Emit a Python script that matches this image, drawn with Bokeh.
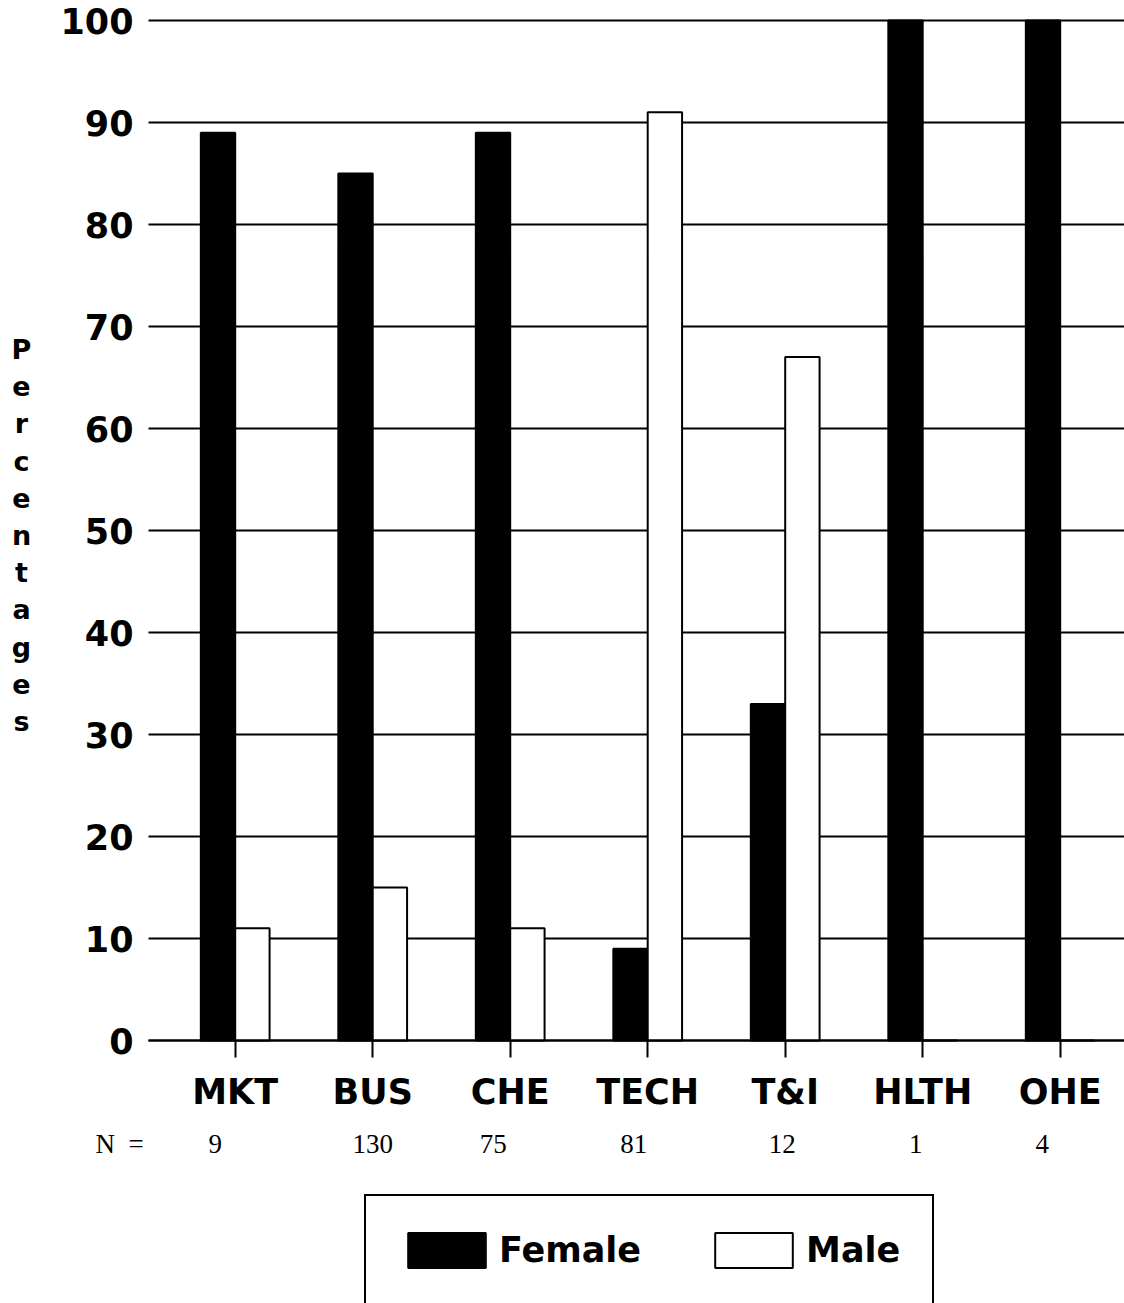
from bokeh.plotting import figure
from bokeh.models import (ColumnDataSource, FixedTicker, Label, LabelSet, Legend,
                          LegendItem, LinearAxis, Range1d)
from bokeh.transform import dodge
from bokeh.embed import file_html
from bokeh.resources import INLINE

# ---- data ----
categories = ["MKT", "BUS", "CHE", "TECH", "T&I", "HLTH", "OHE"]
female = [89, 85, 89, 9, 33, 100, 100]
male = [11, 15, 11, 91, 67, 0, 0]
n_counts = ["9", "130", "75", "81", "12", "1", "4"]
y_ticks = [0, 10, 20, 30, 40, 50, 60, 70, 80, 90, 100]

idx = list(range(len(categories)))

# ---- layout constants (pixels) ----
W, H = 1124, 1303
PLOT_LEFT_PX = 148          # where the value axis / grid starts
BASE_PX = 1040              # pixel row of value 0
PX_PER_CAT = 137.5
FIRST_CENTER_PX = 234.7
PX_PER_UNIT = 10.2
n_shift_px = [-20, 0, -17, -14, -3, -7, -18]   # horizontal nudge of N labels
N_ROW_PX = 1143
N_TITLE_PX = 119
YTITLE_X_PX, YTITLE_Y_PX = 21, 535


def px_to_x(px):
    return (px - FIRST_CENTER_PX) / PX_PER_CAT


def px_to_y(py):
    return (BASE_PX - py) / PX_PER_UNIT


x_start, x_end = px_to_x(0), px_to_x(W)
y_start, y_end = px_to_y(H), px_to_y(0)
x_axis_start = px_to_x(PLOT_LEFT_PX)

n_x = [i + s / PX_PER_CAT for i, s in zip(idx, n_shift_px)]
src = ColumnDataSource(dict(idx=idx, cat=categories, female=female, male=male,
                            n=n_counts, n_x=n_x))
grid_src = ColumnDataSource(dict(y=y_ticks))

FONT = "DejaVu Sans"

p = figure(width=W, height=H, output_backend="svg", toolbar_location=None,
           x_range=Range1d(x_start, x_end), y_range=Range1d(y_start, y_end),
           min_border=0, x_axis_location=None, y_axis_location=None)
p.outline_line_color = None
p.background_fill_color = "white"
p.border_fill_color = "white"
p.xgrid.visible = False
p.ygrid.visible = False

# horizontal gridlines (start at the value axis)
p.segment(x0=x_axis_start, x1=x_end, y0="y", y1="y", source=grid_src,
          line_color="black", line_width=1.8)

# bars
bw = 0.25
r_f = p.vbar(x=dodge("idx", -bw / 2), top="female", width=bw, source=src,
             fill_color="black", line_color="black", line_width=2)
r_m = p.vbar(x=dodge("idx", bw / 2), top="male", width=bw, source=src,
             fill_color="white", line_color="black", line_width=2)

# y axis: labels only
yax = LinearAxis(ticker=FixedTicker(ticks=y_ticks), fixed_location=x_axis_start,
                 bounds=(0, 100))
yax.axis_line_color = None
yax.major_tick_line_color = None
yax.minor_tick_line_color = None
yax.major_label_text_font = FONT
yax.major_label_text_font_style = "bold"
yax.major_label_text_font_size = "35px"
yax.major_label_text_color = "black"
yax.major_label_standoff = 9
p.add_layout(yax, "left")

# x axis with category labels
xax = LinearAxis(ticker=FixedTicker(ticks=idx), fixed_location=0,
                 bounds=(x_axis_start, x_end))
xax.major_label_overrides = {i: c for i, c in zip(idx, categories)}
xax.axis_line_color = "black"
xax.axis_line_width = 2
xax.major_tick_line_color = "black"
xax.major_tick_line_width = 2
xax.major_tick_in = 0
xax.major_tick_out = 17
xax.minor_tick_line_color = None
xax.major_label_text_font = FONT
xax.major_label_text_font_style = "bold"
xax.major_label_text_font_size = "35px"
xax.major_label_text_color = "black"
xax.major_label_standoff = 14
p.add_layout(xax, "below")

# stacked y title
p.add_layout(Label(x=px_to_x(YTITLE_X_PX), y=px_to_y(YTITLE_Y_PX),
                   text="\n".join("Percentages"),
                   text_font=FONT, text_font_style="bold", text_font_size="27px",
                   text_align="center", text_baseline="middle", text_line_height=1.2,
                   text_color="black"))

# N row
n_y = px_to_y(N_ROW_PX)
p.add_layout(Label(x=px_to_x(N_TITLE_PX), y=n_y, text="N\u00a0\u00a0=",
                   text_font="Liberation Serif", text_font_size="27px",
                   text_align="center", text_baseline="middle", text_color="black"))
p.add_layout(LabelSet(x="n_x", y=n_y, text="n", source=src,
                      text_font="Liberation Serif", text_font_size="27px",
                      text_align="center", text_baseline="middle", text_color="black"))

# legend
legend = Legend(items=[LegendItem(label="Female", renderers=[r_f]),
                       LegendItem(label="Male", renderers=[r_m])],
                orientation="horizontal", location=(364, -3),
                glyph_width=97, glyph_height=44, label_standoff=4, spacing=64,
                padding=32, margin=0,
                label_text_font=FONT, label_text_font_style="bold",
                label_text_font_size="35px", label_text_color="black",
                border_line_color="black", border_line_width=2, border_line_alpha=1.0,
                background_fill_color="white", background_fill_alpha=1.0)
p.add_layout(legend)

open("out.html", "w").write(file_html(p, INLINE))
